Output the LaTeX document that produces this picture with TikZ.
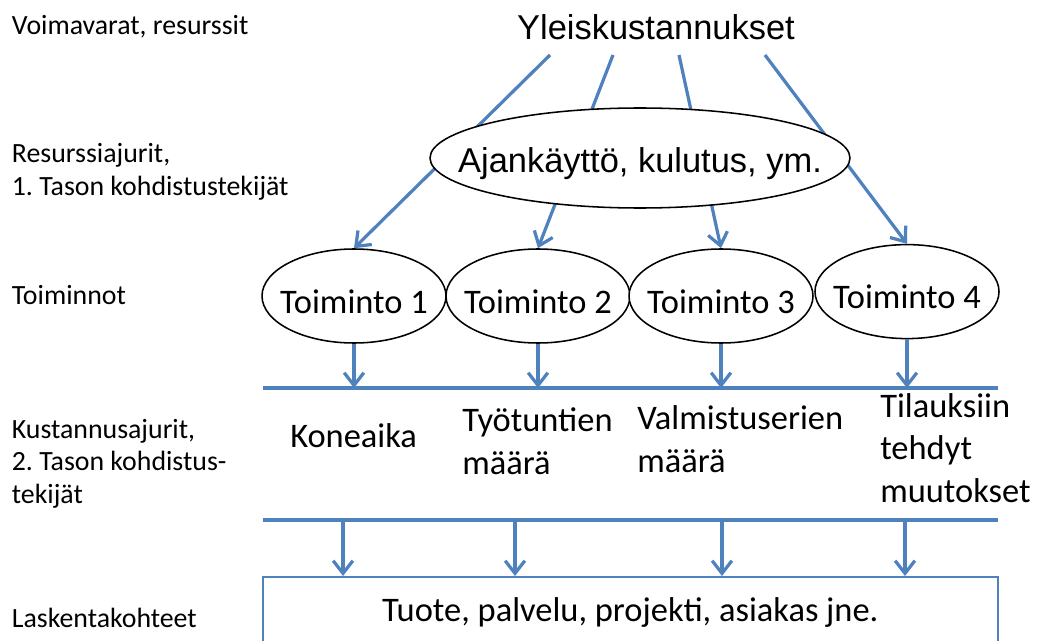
\documentclass[tikz,border=0pt]{standalone}
\usepackage{fontspec}
\setmainfont{Carlito}
\newfontfamily\arialfont{Liberation Sans}
\usepackage{tikz}
\usetikzlibrary{
    arrows.meta,
    shapes.geometric
}
\definecolor{officeblue}{RGB}{79,129,189}
\tikzset{
  side/.style = {anchor=base west, inner sep=0pt, align=left,
                 font=\fontsize{19.8}{22.8}\selectfont},
  drv/.style  = {anchor=base west, inner sep=0pt, align=left,
                 font=\fontsize{24.5}{29.9}\selectfont}
}

\begin{document}
\begin{tikzpicture}[
    act/.style={ellipse, draw=black, line width=1.1pt, fill=white,
                minimum width=4.6cm, minimum height=2.35cm, inner sep=0pt},
    acttxt/.style={inner sep=0pt, yshift=-4pt,
                   font=\fontsize{24.5}{29.9}\selectfont},
    big/.style={font=\arialfont\fontsize{24.5}{29.9}\selectfont},
    arr/.style={-{Straight Barb[length=9pt,width=14pt]}, line width=2.3pt, officeblue},
    bar/.style={line width=2.6pt, officeblue}
  ]
    \path[use as bounding box, clip] (0,0) rectangle (26.325,-16.025);

    % levels on the left
    \node[side](l1) at (0.29,-0.875) {Voimavarat, resurssit};
    \node[side](l2) at (0.29,-4.875) {Resurssiajurit,\\1.\ Tason kohdistustekijät};
    \node[side](l3) at (0.29,-7.6)   {Toiminnot};
    \node[side](l4) at (0.29,-12.575){Kustannusajurit,\\2.\ Tason kohdistus-\\tekijät};
    \node[side](l5) at (0.29,-15.675){Laskentakohteet};

    \node[big, anchor=base, inner sep=0pt](ov) at (16.4,-1.0) {Yleiskustannukset};
    \coordinate (s1) at (13.75,-1.375);
    \coordinate (s2) at (15.325,-1.375);
    \coordinate (s3) at (16.975,-1.375);
    \coordinate (s4) at (19.125,-1.375);

    \node[act, label={[acttxt]center:Toiminto 1}](t1) at (8.85,-7.4)   {};
    \node[act, label={[acttxt]center:Toiminto 2}](t2) at (13.45,-7.4)  {};
    \node[act, label={[acttxt]center:Toiminto 3}](t3) at (18.025,-7.4) {};
    \node[act, label={[acttxt]center:Toiminto 4}](t4) at (22.675,-7.29){};

    \draw[arr](s1)--(t1.north); \draw[arr](s2)--(t2.north);
    \draw[arr](s3)--(t3.north); \draw[arr](s4)--(t4.north);

    \node[act, minimum width=10.5cm, minimum height=2.5cm,
          label={[acttxt, big]center:{Ajankäyttö, kulutus, ym.}}](aj) at (16.0,-3.95) {};

    \coordinate (b1w) at (6.575,-9.7);  \coordinate (b1e) at (24.95,-9.7);
    \coordinate (b2w) at (6.575,-13.0); \coordinate (b2e) at (24.95,-13.0);
    \draw[bar](b1w)--(b1e);
    \draw[bar](b2w)--(b2e);

    \draw[arr](t1.south)--(t1.south |- b1w); \draw[arr](t2.south)--(t2.south |- b1w);
    \draw[arr](t3.south)--(t3.south |- b1w); \draw[arr](t4.south)--(t4.south |- b1w);

    \node[drv](d1) at (7.25,-11.175) {Koneaika};
    \node[drv](d2) at (11.55,-11.85) {Työtuntien\\määrä};
    \node[drv](d3) at (15.925,-11.8) {Valmistuserien\\määrä};
    \node[drv](d4) at (22.0,-12.55)  {Tilauksiin\\tehdyt\\muutokset};

    \node[draw=officeblue, line width=1.1pt, anchor=north west, inner sep=0pt,
          minimum width=18.375cm, minimum height=1.8cm,
          font=\fontsize{24.5}{29.9}\selectfont](obj) at (6.55,-14.4)
      {Tuote, palvelu, projekti, asiakas jne.};

    \coordinate (k1) at (8.575,-13.0);  \coordinate (k2) at (12.875,-13.0);
    \coordinate (k3) at (18.05,-13.0);  \coordinate (k4) at (22.625,-13.0);
    \draw[arr](k1)--(k1 |- obj.north); \draw[arr](k2)--(k2 |- obj.north);
    \draw[arr](k3)--(k3 |- obj.north); \draw[arr](k4)--(k4 |- obj.north);
  \end{tikzpicture}
\end{document}
